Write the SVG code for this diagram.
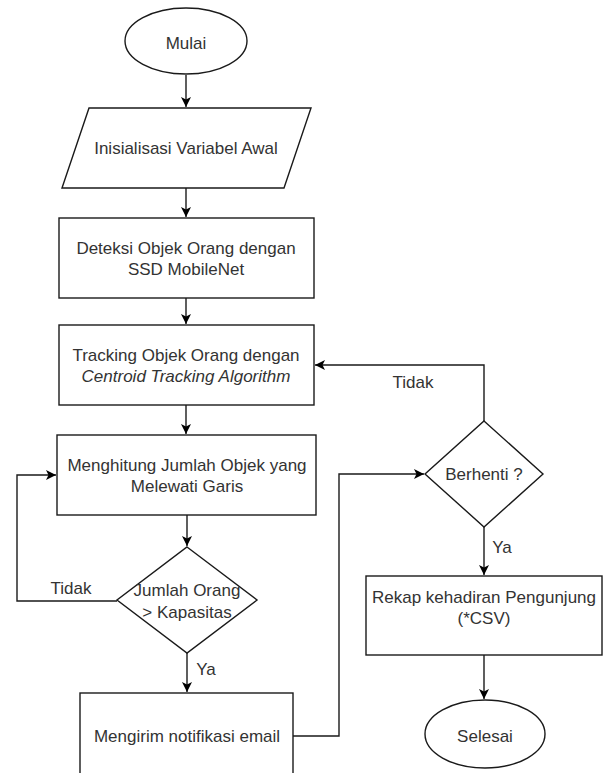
<svg xmlns="http://www.w3.org/2000/svg" width="603" height="773" viewBox="0 0 603 773">
<defs>
<marker id="arr" viewBox="0 0 10 10" refX="10" refY="5" markerWidth="10" markerHeight="10" markerUnits="userSpaceOnUse" orient="auto">
<path d="M0,0 L10,5 L0,10 L2.5,5 Z" fill="#000"/>
</marker>
</defs>
<style>
.s{fill:#fff;stroke:#1a1a1a;stroke-width:1.4}
.t{font-family:"Liberation Sans",Arial,sans-serif;font-size:17px;fill:#333;text-anchor:middle}
.l{fill:none;stroke:#1a1a1a;stroke-width:1.4}
</style>
<rect width="603" height="773" fill="#fff"/>
<g id="connectors">
<path class="l" d="M186,75 V107" marker-end="url(#arr)"/>
<path class="l" d="M186,188 V217" marker-end="url(#arr)"/>
<path class="l" d="M186,298 V324" marker-end="url(#arr)"/>
<path class="l" d="M186,405 V434" marker-end="url(#arr)"/>
<path class="l" d="M187,515 V546" marker-end="url(#arr)"/>
<path class="l" d="M117,601 H17 V475 H56" marker-end="url(#arr)"/>
<path class="l" d="M187,653 V692" marker-end="url(#arr)"/>
<path class="l" d="M293,736 H339 V474 H424" marker-end="url(#arr)"/>
<path class="l" d="M484,421 V365 H315" marker-end="url(#arr)"/>
<path class="l" d="M484,527 V575" marker-end="url(#arr)"/>
<path class="l" d="M484,655 V699" marker-end="url(#arr)"/>
<text class="t" x="71" y="594">Tidak</text>
<text class="t" x="206" y="675">Ya</text>
<text class="t" x="413" y="388">Tidak</text>
<text class="t" x="502" y="553">Ya</text>
</g>
<g id="mulai">
<ellipse class="s" cx="186" cy="41" rx="61" ry="33"/>
<text class="t" x="186" y="49">Mulai</text>
</g>
<g id="inisialisasi">
<polygon class="s" points="89,108 311,108 284,188 62,188"/>
<text class="t" x="186" y="154">Inisialisasi Variabel Awal</text>
</g>
<g id="deteksi">
<rect class="s" x="59" y="218" width="255" height="80"/>
<text class="t" x="186" y="254">Deteksi Objek Orang dengan</text>
<text class="t" x="186" y="275">SSD MobileNet</text>
</g>
<g id="tracking">
<rect class="s" x="59" y="325" width="255" height="80"/>
<text class="t" x="186" y="361">Tracking Objek Orang dengan</text>
<text class="t" x="186" y="382" font-style="italic">Centroid Tracking Algorithm</text>
</g>
<g id="menghitung">
<rect class="s" x="57" y="435" width="259" height="80"/>
<text class="t" x="187" y="471">Menghitung Jumlah Objek yang</text>
<text class="t" x="187" y="492">Melewati Garis</text>
</g>
<g id="jumlah">
<polygon class="s" points="187,547 257,600 187,653 117,600"/>
<text class="t" x="187" y="596">Jumlah Orang</text>
<text class="t" x="187" y="618">&gt; Kapasitas</text>
</g>
<g id="mengirim">
<rect class="s" x="80" y="693" width="213" height="100"/>
<text class="t" x="187" y="742">Mengirim notifikasi email</text>
</g>
<g id="berhenti">
<polygon class="s" points="484,421 543,474 484,527 425,474"/>
<text class="t" x="484" y="480">Berhenti ?</text>
</g>
<g id="rekap">
<rect class="s" x="366" y="576" width="236" height="79"/>
<text class="t" x="484" y="603">Rekap kehadiran Pengunjung</text>
<text class="t" x="484" y="624">(*CSV)</text>
</g>
<g id="selesai">
<ellipse class="s" cx="485" cy="734" rx="60" ry="34"/>
<text class="t" x="485" y="742">Selesai</text>
</g>
</svg>
